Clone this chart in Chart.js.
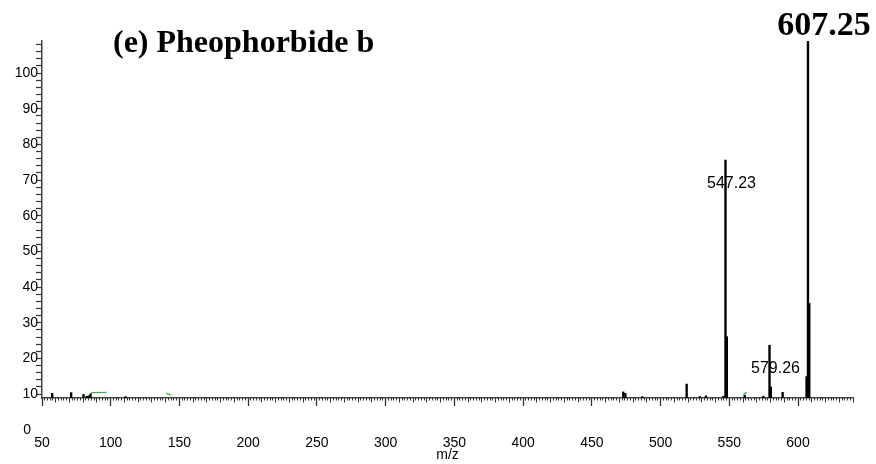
<!DOCTYPE html>
<html>
<head>
<meta charset="utf-8">
<script src="https://cdn.jsdelivr.net/npm/chart.js@4.4.1/dist/chart.umd.min.js"></script>
<style>
  html, body { margin: 0; padding: 0; background: #fff; }
  #wrap { width: 876px; height: 464px; }
</style>
</head>
<body>
<div id="wrap"><canvas id="spectrum"></canvas></div>
<script>
// peaks: m/z and height in axis units
const peakMz  = [57.4, 71.2, 80.2, 82.6, 84.0, 85.3, 110.8, 472.9, 474.4, 486.7, 519.0, 528.6, 533.0, 545.8,
                 547.23, 548.2, 561.2, 574.8, 579.26, 580.2, 588.8, 606.2, 607.25, 608.2];
const peakInt = [10.2, 10.4, 9.9, 9.4, 9.5, 10.0, 9.3, 10.6, 10.2, 9.3, 12.8, 9.3, 9.5, 9.4,
                 75.6, 26.1, 9.7, 9.4, 23.7, 12.0, 10.5, 14.9, 108.9, 35.4];

// the small green traces near the baseline (null = gap)
const traceMz  = [85.3, 86.4, 96.9, null, 140.4, 144.0, null, 560.5, 562.6];
const traceInt = [10.0, 10.4, 10.5, null, 10.2, 9.7, null, 10.0, 10.5];

// labelled peaks
const labelMz   = [607.25, 547.23, 579.26];
const labelText = ['607.25', '547.23', '579.26'];

const chartTitle = '(e) Pheophorbide b';
const xTitle = 'm/z';
const xMin = 50, xMax = 640;
const yMin = 8.9, yMax = 109;

const sans = '"Liberation Sans", Arial, sans-serif';
const serif = '"Liberation Serif", "Times New Roman", serif';

const textPlugin = {
    id: 'textPlugin',
    beforeDatasetsDraw(chart) {
        const { ctx, chartArea, scales } = chart;
        const x = scales.x, y = scales.y;
        ctx.save();
        ctx.fillStyle = '#000';

        // title inside the plot area
        ctx.font = 'bold 32px ' + serif;
        ctx.textAlign = 'left';
        ctx.textBaseline = 'alphabetic';
        ctx.fillText(chartTitle, chartArea.left + 71, chartArea.top + 11);

        // base peak label, bold, above the peak
        ctx.font = 'bold 34px ' + serif;
        ctx.textAlign = 'center';
        ctx.fillText(labelText[0], x.getPixelForValue(labelMz[0]) + 16, chartArea.top - 6);

        // other labels sit just under the peak top
        ctx.font = '16px ' + sans;
        ctx.textBaseline = 'middle';
        for (let i = 1; i < labelMz.length; i++) {
            const k = peakMz.indexOf(labelMz[i]);
            ctx.fillText(labelText[i], x.getPixelForValue(labelMz[i]) + 6, y.getPixelForValue(peakInt[k]) + 23);
        }

        // the stray "0" of the intensity axis
        ctx.font = '14px ' + sans;
        ctx.textAlign = 'right';
        ctx.fillText('0', chartArea.left - 11, y.getPixelForValue(0));
        ctx.restore();
    }
};

const minorAxis = (step, len) => ({
    type: 'linear',
    min: xMin,
    max: xMax,
    offset: false,
    position: { y: yMin },
    ticks: { display: false, stepSize: step },
    grid: { drawOnChartArea: false, offset: false, tickLength: len, tickColor: '#333', tickWidth: 1 },
    border: { display: false }
});

new Chart(document.getElementById('spectrum'), {
    data: {
        datasets: [{
            type: 'bar',
            data: peakMz.map((m, i) => ({ x: m, y: peakInt[i] })),
            backgroundColor: '#000',
            borderWidth: 0,
            barThickness: 1.7,
            xAxisID: 'x',
            yAxisID: 'y'
        }, {
            type: 'line',
            data: traceMz.map((m, i) => ({ x: m, y: traceInt[i] })),
            borderColor: '#3fb04a',
            borderWidth: 1.3,
            pointRadius: 0,
            spanGaps: false,
            xAxisID: 'x',
            yAxisID: 'y'
        }]
    },
    options: {
        responsive: true,
        maintainAspectRatio: false,
        animation: false,
        layout: { padding: { top: 41, right: 23, left: 0, bottom: 0 } },
        plugins: {
            legend: { display: false },
            tooltip: { enabled: false }
        },
        scales: {
            x: {
                type: 'linear',
                min: xMin,
                max: xMax,
                offset: false,
                position: 'bottom',
                ticks: {
                    stepSize: 50,
                    autoSkip: false,
                    maxRotation: 0,
                    padding: 29,
                    color: '#000',
                    font: { family: sans, size: 14 },
                    callback: v => (v % 50 === 0 ? v : '')
                },
                grid: {
                    drawOnChartArea: false,
                    offset: false,
                    tickLength: 8,
                    tickWidth: 1.3,
                    tickColor: c => (c.tick && c.tick.value % 50 === 0 ? '#333' : 'rgba(0,0,0,0)')
                },
                border: { color: '#444', width: 1.5 },
                title: { display: true, text: xTitle, color: '#000', font: { family: sans, size: 14 }, padding: 0 },
                afterFit: s => {
                    s.height = 66;
                    // label padding must not squeeze the plot from the sides
                    s.paddingLeft = 0;
                    s.paddingRight = 0;
                }
            },
            xMid: minorAxis(10, 4.5),
            xMinor: minorAxis(2, 2.5),
            y: {
                type: 'linear',
                min: yMin,
                max: yMax,
                ticks: {
                    stepSize: 2,
                    includeBounds: false,
                    autoSkip: false,
                    padding: -2,
                    color: '#000',
                    font: { family: sans, size: 14 },
                    callback: v => (v > 0 && v % 10 === 0 ? v : '')
                },
                grid: { drawOnChartArea: false, tickLength: 6, tickColor: '#333', tickWidth: 1.2 },
                border: { color: '#444', width: 1.5 },
                afterFit: s => { s.width = 42; }
            }
        }
    },
    plugins: [textPlugin]
});
</script>
</body>
</html>
